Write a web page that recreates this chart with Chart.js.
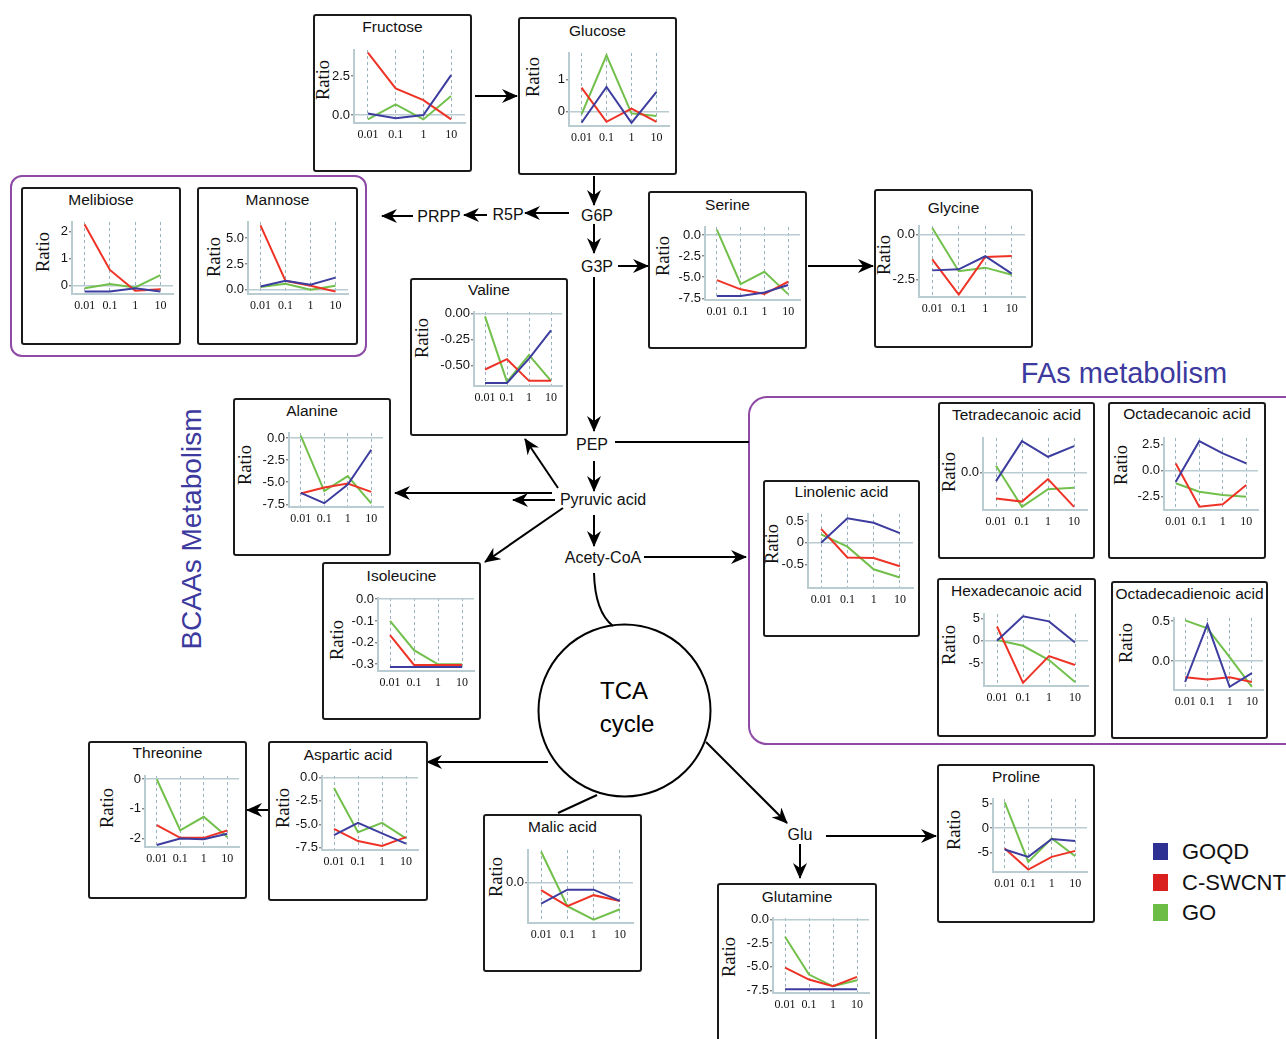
<!DOCTYPE html>
<html>
<head>
<meta charset="utf-8">
<script src="https://cdn.jsdelivr.net/npm/chart.js@4.4.1/dist/chart.umd.min.js"></script>
<style>
  body { margin: 0; background: #fff; }
  #page { position: relative; width: 1286px; height: 1039px; overflow: hidden; font-family: 'Liberation Sans', Arial, sans-serif; color: #111; }
  .box { position: absolute; border: 2px solid #1b1b1b; border-radius: 3px; box-sizing: border-box; background: #fff; }
  canvas.mini { position: absolute; }
  .ttl { position: absolute; transform: translate(-50%, -50%); font-size: 15.5px; white-space: nowrap; }
  .ratio { position: absolute; transform: translate(-50%, -50%) rotate(-90deg); font-family: 'Liberation Serif', serif; font-size: 18.5px; white-space: nowrap; }
  svg { position: absolute; left: 0; top: 0; }
  .leg { position: absolute; font-size: 22px; }
  .sq { position: absolute; width: 15px; height: 17px; }
</style>
</head>
<body>
<div id="page">
<svg id="diagram" width="1286" height="1039"></svg>
</div>
<script>
// dose categories and series
const doses = ['0.01', '0.1', '1', '10'];
const seriesNames = ['GOQD', 'C-SWCNT', 'GO'];
const lineColors = ['#3d3d9f', '#ee3326', '#72c04b'];
const legendColors = ['#2f3192', '#d9201f', '#6cbd45'];

// each metabolite: [GOQD, C-SWCNT, GO] ratios at 0.01, 0.1, 1, 10
const fructose = [[0.1, -0.2, 0.0, 2.56], [4.0, 1.71, 0.96, -0.28], [-0.28, 0.68, -0.28, 1.22]];
const fructoseTicks = ['0.0', '2.5'];
const glucose = [[-0.34, 0.77, -0.34, 0.62], [0.75, -0.31, 0.1, -0.31], [-0.08, 1.75, -0.05, -0.13]];
const glucoseTicks = ['0', '1'];
const melibiose = [[-0.21, -0.21, -0.09, -0.21], [2.27, 0.59, -0.18, -0.12], [-0.09, 0.07, -0.06, 0.4]];
const melibioseTicks = ['0', '1', '2'];
const mannose = [[0.32, 0.87, 0.48, 1.18], [6.25, 0.87, 0.38, -0.16], [0.26, 0.58, 0.0, 0.38]];
const mannoseTicks = ['0.0', '2.5', '5.0'];
const serine = [[-7.23, -7.23, -6.8, -5.92], [-5.33, -6.43, -6.99, -5.53], [0.67, -5.8, -4.35, -7.0]];
const serineTicks = ['-7.5', '-5.0', '-2.5', '0.0'];
const glycine = [[-1.99, -1.93, -1.21, -2.17], [-1.38, -3.33, -1.25, -1.2], [0.35, -2.04, -1.84, -2.23]];
const glycineTicks = ['-2.5', '0.0'];
const valine = [[-0.67, -0.67, -0.435, -0.16], [-0.54, -0.44, -0.65, -0.65], [-0.026, -0.66, -0.40, -0.65]];
const valineTicks = ['-0.50', '-0.25', '0.00'];
const alanine = [[-6.2, -7.37, -5.25, -1.33], [-6.28, -5.6, -5.14, -6.09], [0.27, -6.0, -4.3, -7.4]];
const alanineTicks = ['-7.5', '-5.0', '-2.5', '0.0'];
const isoleucine = [[-0.313, -0.313, -0.313, -0.313], [-0.165, -0.303, -0.303, -0.303], [-0.10, -0.235, -0.30, -0.30]];
const isoleucineTicks = ['-0.3', '-0.2', '-0.1', '0.0'];
const linolenic = [[0.0, 0.56, 0.46, 0.22], [0.32, -0.34, -0.35, -0.54], [0.19, -0.09, -0.61, -0.80]];
const linolenicTicks = ['-0.5', '0', '0.5'];
const tetradecanoic = [[-0.30, 1.08, 0.54, 0.91], [-0.90, -1.01, -0.23, -1.19], [0.23, -1.19, -0.58, -0.53]];
const tetradecanoicTicks = ['0.0'];
const octadecanoic = [[-1.05, 2.83, 1.66, 0.7], [0.7, -3.43, -3.2, -1.36], [-1.2, -2.0, -2.32, -2.48]];
const octadecanoicTicks = ['-2.5', '0.0', '2.5'];
const hexadecanoic = [[0, 5.47, 4.35, -0.37], [3.2, -9.4, -3.4, -5.4], [0.2, -1.1, -4.3, -9.2]];
const hexadecanoicTicks = ['-5', '0', '5'];
const octadecadienoic = [[-0.26, 0.46, -0.32, -0.15], [-0.2, -0.23, -0.2, -0.26], [0.51, 0.41, 0.05, -0.32]];
const octadecadienoicTicks = ['0.0', '0.5'];
const threonine = [[-2.22, -2.0, -2.03, -1.84], [-1.55, -1.98, -1.98, -1.73], [0.0, -1.73, -1.27, -1.95]];
const threonineTicks = ['-2', '-1', '0'];
const aspartic = [[-6.15, -4.84, -5.96, -7.06], [-5.48, -6.78, -7.31, -6.36], [-1.13, -5.83, -4.84, -6.5]];
const asparticTicks = ['-7.5', '-5.0', '-2.5', '0.0'];
const malic = [[-0.83, -0.27, -0.27, -0.72], [-0.29, -0.93, -0.49, -0.72], [1.24, -0.93, -1.47, -1.05]];
const malicTicks = ['0.0'];
const glutamine = [[-7.38, -7.38, -7.38, -7.38], [-5.09, -6.36, -7.07, -6.08], [-1.84, -5.83, -7.07, -6.43]];
const glutamineTicks = ['-7.5', '-5.0', '-2.5', '0.0'];
const proline = [[-4.34, -5.86, -2.2, -2.62], [-4.13, -8.47, -5.86, -4.63], [5.3, -6.9, -2.07, -5.72]];
const prolineTicks = ['-5', '0', '5'];

// panel layout: box [l,t,r,b], plot [axisX,top,right,bottom], y range, title y, "Ratio" centre
var panels = [
  {title: 'Fructose', vals: fructose, ticks: fructoseTicks, box: [313, 14, 472, 172], plot: [354, 50, 465, 123], y: [-0.51, 4.17], ty: 27, rx: [323, 80]},
  {title: 'Glucose', vals: glucose, ticks: glucoseTicks, box: [518, 17, 677, 175], plot: [569, 53, 669, 126], y: [-0.44, 1.82], ty: 31, rx: [533, 77]},
  {title: 'Melibiose', vals: melibiose, ticks: melibioseTicks, box: [21, 187, 181, 345], plot: [72, 222, 173, 294], y: [-0.3, 2.36], ty: 200, rx: [43, 252]},
  {title: 'Mannose', vals: mannose, ticks: mannoseTicks, box: [197, 187, 358, 345], plot: [248, 222, 348, 294], y: [-0.41, 6.57], ty: 200, rx: [214, 257]},
  {title: 'Serine', vals: serine, ticks: serineTicks, box: [648, 191, 807, 349], plot: [705, 227, 800, 300], y: [-7.7, 0.98], ty: 205, rx: [663, 256]},
  {title: 'Glycine', vals: glycine, ticks: glycineTicks, box: [874, 189, 1033, 348], plot: [919, 226, 1025, 297], y: [-3.46, 0.46], ty: 208, rx: [884, 255]},
  {title: 'Valine', vals: valine, ticks: valineTicks, box: [410, 278, 568, 436], plot: [474, 312, 562, 386], y: [-0.70, 0.017], ty: 290, rx: [422, 338]},
  {title: 'Alanine', vals: alanine, ticks: alanineTicks, box: [233, 398, 391, 556], plot: [289, 433, 383, 507], y: [-7.8, 0.57], ty: 411, rx: [245, 465]},
  {title: 'Isoleucine', vals: isoleucine, ticks: isoleucineTicks, box: [322, 562, 481, 720], plot: [378, 598, 474, 671], y: [-0.331, 0.006], ty: 576, rx: [337, 640]},
  {title: 'Linolenic acid', vals: linolenic, ticks: linolenicTicks, box: [763, 480, 920, 637], plot: [808, 514, 913, 588], y: [-1.04, 0.66], ty: 492, rx: [772, 544]},
  {title: 'Tetradecanoic acid', vals: tetradecanoic, ticks: tetradecanoicTicks, box: [938, 402, 1095, 559], plot: [983, 438, 1087, 510], y: [-1.30, 1.19], ty: 415, rx: [949, 472]},
  {title: 'Octadecanoic acid', vals: octadecanoic, ticks: octadecanoicTicks, box: [1108, 402, 1266, 559], plot: [1164, 438, 1258, 510], y: [-3.75, 3.13], ty: 414, rx: [1121, 465]},
  {title: 'Hexadecanoic acid', vals: hexadecanoic, ticks: hexadecanoicTicks, box: [937, 578, 1096, 737], plot: [984, 614, 1088, 686], y: [-10.1, 6.0], ty: 591, rx: [949, 645]},
  {title: 'Octadecadienoic acid', vals: octadecadienoic, ticks: octadecadienoicTicks, box: [1111, 581, 1268, 739], plot: [1174, 618, 1263, 690], y: [-0.36, 0.54], ty: 594, rx: [1126, 643]},
  {title: 'Threonine', vals: threonine, ticks: threonineTicks, box: [88, 741, 247, 899], plot: [145, 776, 239, 847], y: [-2.29, 0.11], ty: 753, rx: [107, 808]},
  {title: 'Aspartic acid', vals: aspartic, ticks: asparticTicks, box: [268, 741, 428, 901], plot: [322, 776, 418, 850], y: [-7.73, 0.14], ty: 755, rx: [283, 808]},
  {title: 'Malic acid', vals: malic, ticks: malicTicks, box: [483, 814, 642, 972], plot: [528, 850, 633, 923], y: [-1.6, 1.31], ty: 827, rx: [496, 877]},
  {title: 'Glutamine', vals: glutamine, ticks: glutamineTicks, box: [717, 883, 877, 1050], plot: [773, 918, 869, 993], y: [-7.78, 0.14], ty: 897, rx: [729, 957]},
  {title: 'Proline', vals: proline, ticks: prolineTicks, box: [937, 764, 1095, 923], plot: [993, 799, 1087, 872], y: [-8.96, 6.0], ty: 777, rx: [954, 830]}
];

var page = document.getElementById('page');
var XH = 30; // height of x axis strip

function addDiv(cls, x, y, text) {
  var d = document.createElement('div');
  d.className = cls;
  d.style.left = x + 'px';
  d.style.top = y + 'px';
  if (text) d.textContent = text;
  page.appendChild(d);
  return d;
}

function miniChart(p) {
  var l = p.box[0], t = p.box[1], r = p.box[2], b = p.box[3];
  var w = r - l, h = b - t;
  var box = addDiv('box', l, t);
  box.style.width = w + 'px';
  box.style.height = h + 'px';
  addDiv('ttl', (l + r) / 2, p.ty, p.title);
  addDiv('ratio', p.rx[0], p.rx[1], 'Ratio');

  var cv = document.createElement('canvas');
  cv.className = 'mini';
  cv.width = w; cv.height = h;
  cv.style.left = l + 'px'; cv.style.top = t + 'px';
  cv.style.width = w + 'px'; cv.style.height = h + 'px';
  page.appendChild(cv);

  var yAxisW = p.plot[0] - l;
  new Chart(cv, {
    type: 'line',
    data: {
      labels: doses,
      datasets: p.vals.map(function (v, i) {
        return {label: seriesNames[i], data: v, borderColor: lineColors[i], borderWidth: 2, pointRadius: 0, tension: 0, fill: false};
      })
    },
    options: {
      responsive: false,
      animation: false,
      devicePixelRatio: 1,
      events: [],
      layout: {padding: {left: 0, top: p.plot[1] - t, right: r - p.plot[2], bottom: b - p.plot[3] - XH}},
      plugins: {legend: {display: false}, tooltip: {enabled: false}},
      scales: {
        x: {
          offset: true,
          grid: {offset: false, color: '#98b3bd', lineWidth: 1, drawTicks: false},
          border: {display: true, color: '#b8ccd2', width: 2, dash: [3, 3]},
          ticks: {font: {family: "'Liberation Serif', serif", size: 12}, color: '#111', padding: 5, maxRotation: 0, autoSkip: false},
          afterFit: function (s) { s.height = XH; }
        },
        y: {
          min: p.y[0],
          max: p.y[1],
          afterBuildTicks: function (s) {
            s.ticks = p.ticks.map(function (lbl) { return {value: parseFloat(lbl)}; });
          },
          ticks: {
            font: {size: 13},
            color: '#111',
            padding: 1,
            callback: function (v) {
              var f = p.ticks.filter(function (lbl) { return parseFloat(lbl) === v; });
              return f.length ? f[0] : '';
            }
          },
          grid: {
            color: function (c) { return c.tick && c.tick.value === 0 ? '#b8ccd2' : 'rgba(0,0,0,0)'; },
            lineWidth: 1.6,
            tickColor: '#555',
            tickWidth: 1,
            tickLength: 3
          },
          border: {display: true, color: '#b8ccd2', width: 2},
          afterFit: function (s) { s.width = yAxisW; }
        }
      }
    }
  });
}

// pathway drawing
var svg = document.getElementById('diagram');
var NS = 'http://www.w3.org/2000/svg';
svg.innerHTML = '<defs><marker id="ah" viewBox="0 0 16 14" refX="15" refY="7" markerWidth="16" markerHeight="14" markerUnits="userSpaceOnUse" orient="auto">' +
  '<path d="M0,0 L16,7 L0,14 L5,7 Z" fill="#000"/></marker></defs>';

function el(name, attrs, text) {
  var e = document.createElementNS(NS, name);
  for (var k in attrs) e.setAttribute(k, attrs[k]);
  if (text) e.textContent = text;
  svg.appendChild(e);
  return e;
}

// group frames
el('rect', {x: 11, y: 176, width: 355, height: 180, rx: 11, fill: 'none', stroke: '#8e4aa5', 'stroke-width': 2});
el('rect', {x: 749, y: 397, width: 560, height: 347, rx: 18, fill: 'none', stroke: '#8e4aa5', 'stroke-width': 2});

var arrows = [
  [475, 96, 517, 96],
  [594, 176, 594, 205],
  [594, 224, 594, 253],
  [618, 266, 648, 266],
  [569, 213, 525, 213],
  [487, 215, 464, 215],
  [413, 216, 382, 216],
  [808, 266, 873, 266],
  [594, 277, 594, 431],
  [594, 461, 594, 491],
  [558, 488, 525, 439],
  [552, 493, 395, 493],
  [555, 500, 513, 500],
  [563, 508, 485, 562],
  [594, 515, 594, 546],
  [644, 557, 746, 557],
  [548, 762, 427, 762],
  [268, 810, 247, 810],
  [706, 742, 787, 823],
  [826, 836, 936, 836],
  [800, 844, 800, 878]
];
arrows.forEach(function (a) {
  el('line', {x1: a[0], y1: a[1], x2: a[2], y2: a[3], stroke: '#000', 'stroke-width': 2, 'marker-end': 'url(#ah)'});
});
// plain connectors
el('line', {x1: 615, y1: 442, x2: 749, y2: 442, stroke: '#000', 'stroke-width': 2});
el('line', {x1: 597, y1: 795, x2: 558, y2: 813, stroke: '#000', 'stroke-width': 2});
el('path', {d: 'M594,573 Q595,612 613,626', fill: 'none', stroke: '#000', 'stroke-width': 2});
el('circle', {cx: 624.5, cy: 710.5, r: 86, fill: 'none', stroke: '#000', 'stroke-width': 2});

var nodeLabels = [
  ['G6P', 597, 215], ['G3P', 597, 266], ['R5P', 508, 214], ['PRPP', 439, 216],
  ['PEP', 592, 444], ['Pyruvic acid', 603, 499], ['Acety-CoA', 603, 557], ['Glu', 800, 834]
];
nodeLabels.forEach(function (n) {
  el('text', {x: n[1], y: n[2], 'text-anchor': 'middle', 'dominant-baseline': 'central', 'font-size': 16, 'font-family': 'Liberation Sans, Arial, sans-serif', fill: '#111'}, n[0]);
});
el('text', {x: 624, y: 690, 'text-anchor': 'middle', 'dominant-baseline': 'central', 'font-size': 24, 'font-family': 'Liberation Sans, Arial, sans-serif'}, 'TCA');
el('text', {x: 627, y: 723, 'text-anchor': 'middle', 'dominant-baseline': 'central', 'font-size': 24, 'font-family': 'Liberation Sans, Arial, sans-serif'}, 'cycle');
el('text', {x: 1124, y: 373, 'text-anchor': 'middle', 'dominant-baseline': 'central', 'font-size': 29, 'font-family': 'Liberation Sans, Arial, sans-serif', fill: '#3c3a9e'}, 'FAs metabolism');
el('text', {x: 191, y: 529, 'text-anchor': 'middle', 'dominant-baseline': 'central', 'font-size': 28, 'font-family': 'Liberation Sans, Arial, sans-serif', fill: '#3c3a9e', transform: 'rotate(-90 191 529)'}, 'BCAAs Metabolism');

panels.forEach(miniChart);

// legend
seriesNames.forEach(function (name, i) {
  var y = 843 + i * 30.5;
  var s = addDiv('sq', 1153, y);
  s.style.background = legendColors[i];
  var t = addDiv('leg', 1182, y - 4, name);
});
</script>
</body>
</html>
